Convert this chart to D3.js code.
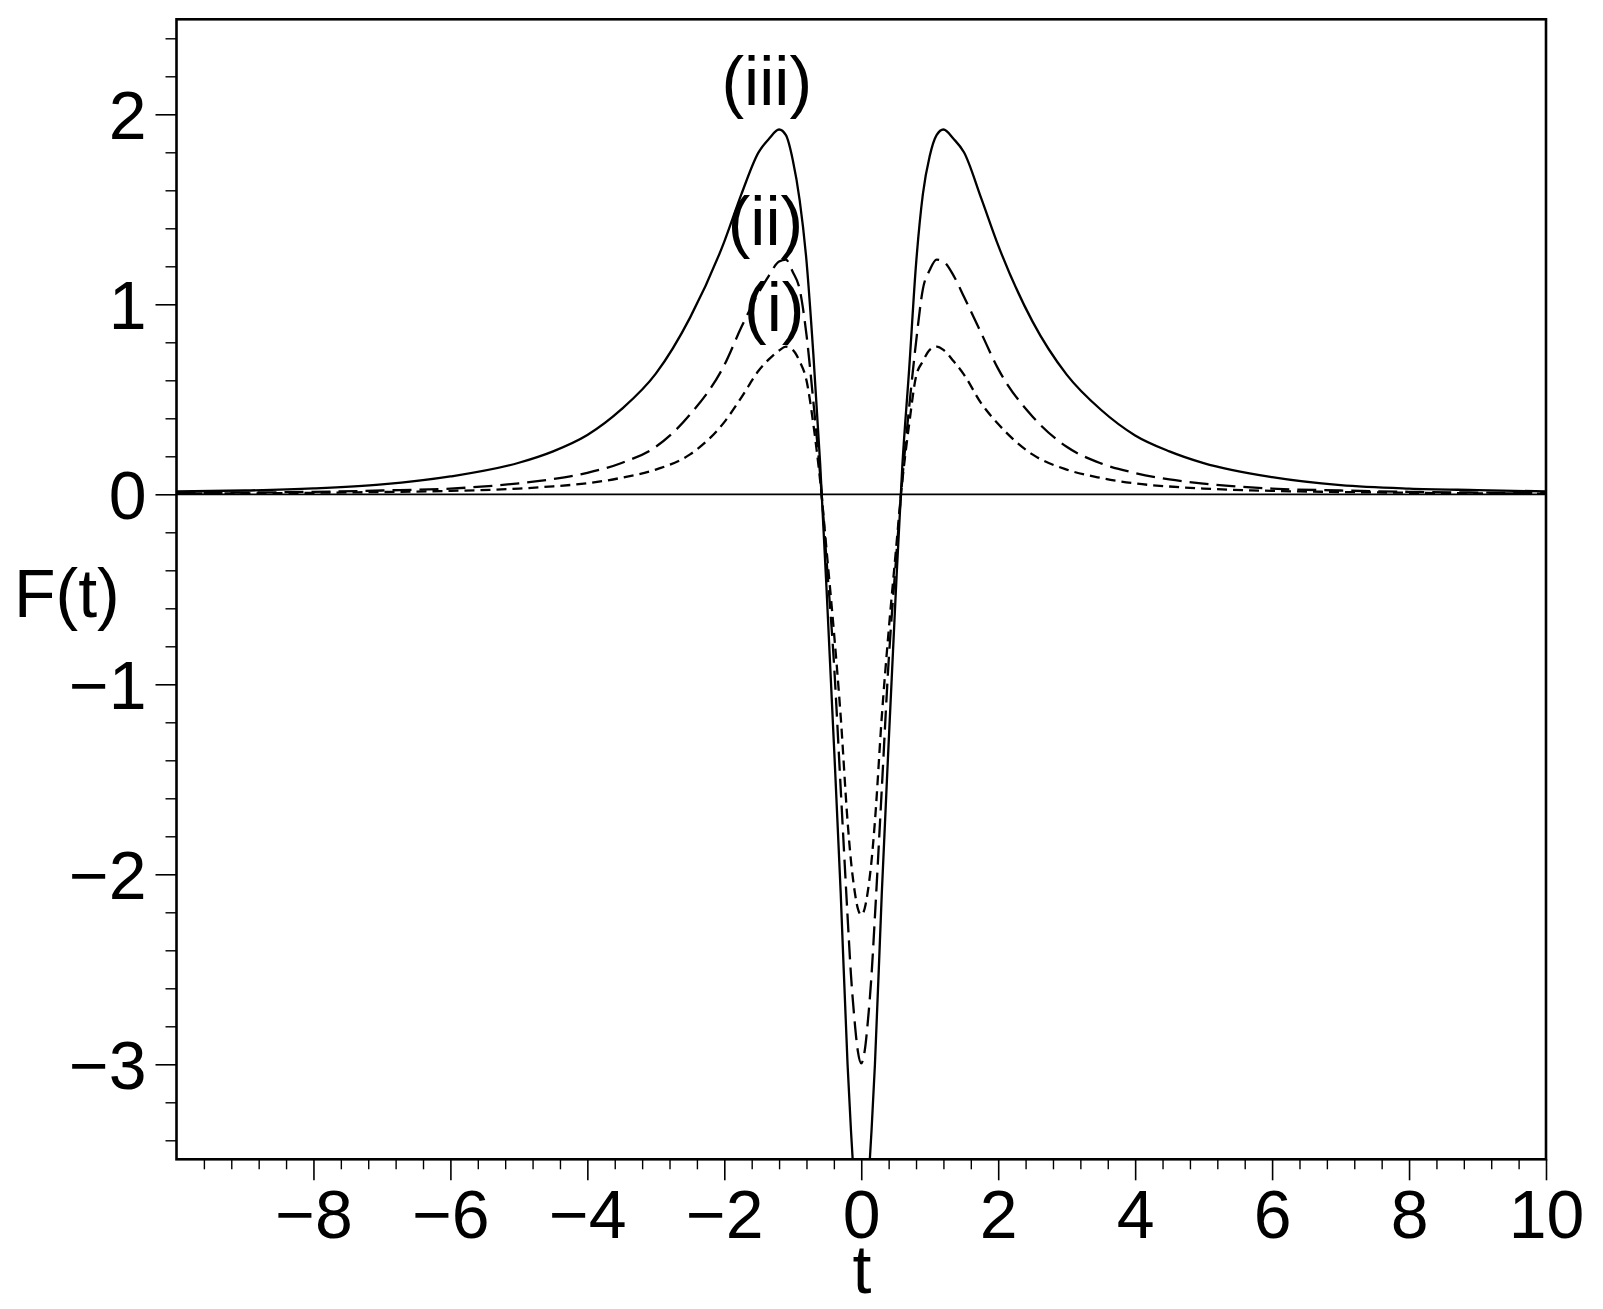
<!DOCTYPE html>
<html>
<head>
<meta charset="utf-8">
<script src="https://cdn.jsdelivr.net/npm/d3@7"></script>
<style>
  html, body { margin: 0; padding: 0; background: #fff; }
  svg { display: block; }
  text { font-family: "Liberation Sans", Arial, Helvetica, sans-serif; fill: #000; }
</style>
</head>
<body>
<svg id="chart" width="1603" height="1309"></svg>
<script>
// ---- data ----
const tValues = [-10,-9,-8,-7,-6,-5,-4.5,-4,-3.5,-3,-2.5,-2,-1.75,-1.5,-1.35,-1.2,-1.1,-1,-0.9,-0.8,-0.7,-0.6,-0.5,-0.4,-0.3,-0.2,-0.15,-0.1,-0.05,0,
                 0.05,0.1,0.15,0.2,0.3,0.4,0.5,0.6,0.7,0.8,0.9,1,1.1,1.2,1.35,1.5,1.75,2,2.5,3,3.5,4,4.5,5,6,7,8,9,10];

// (i) short dashed
const seriesI = [0.004,0.005,0.008,0.012,0.018,0.03,0.042,0.058,0.087,0.13,0.21,0.38,0.51,0.65,0.71,0.757,0.777,0.76,0.70,0.60,0.37,0.07,-0.32,-0.72,-1.17,-1.72,-1.93,-2.08,-2.18,-2.214,
                 -2.18,-2.08,-1.93,-1.72,-1.17,-0.72,-0.32,0.07,0.37,0.62,0.70,0.76,0.777,0.76,0.70,0.63,0.48,0.37,0.21,0.13,0.086,0.057,0.041,0.03,0.018,0.012,0.008,0.005,0.004];

// (ii) long dashed
const seriesII = [0.006,0.009,0.013,0.02,0.03,0.058,0.08,0.113,0.165,0.25,0.42,0.68,0.88,1.06,1.15,1.225,1.235,1.17,1.08,0.84,0.49,0.10,-0.38,-0.88,-1.55,-2.22,-2.53,-2.76,-2.93,-2.995,
                  -2.93,-2.76,-2.53,-2.22,-1.55,-0.88,-0.38,0.08,0.46,0.80,1.08,1.18,1.235,1.225,1.15,1.04,0.85,0.66,0.41,0.25,0.163,0.112,0.078,0.056,0.03,0.02,0.013,0.009,0.006];

// (iii) solid
const seriesIII = [0.015,0.02,0.031,0.052,0.094,0.166,0.226,0.312,0.448,0.635,0.93,1.33,1.58,1.80,1.87,1.92,1.89,1.76,1.55,1.23,0.74,0.16,-0.55,-1.31,-2.1,-3.0,-3.35,-3.65,-3.95,-4.2,
                   -3.95,-3.65,-3.35,-3.0,-2.1,-1.31,-0.55,0.15,0.66,1.21,1.58,1.78,1.89,1.92,1.87,1.80,1.56,1.31,0.91,0.63,0.445,0.31,0.226,0.164,0.09,0.048,0.03,0.022,0.015];

const xTickLabels = [-8,-6,-4,-2,0,2,4,6,8,10];
const yTickLabels = [-3,-2,-1,0,1,2];
const annotations = [
  {text: "(iii)", t: -1.38, v: 2.05},
  {text: "(ii)",  t: -1.40, v: 1.31},
  {text: "(i)",   t: -1.27, v: 0.86}
];

// ---- layout ----
const svg = d3.select("#chart");
const pL = 176.5, pR = 1546, pT = 19.3, pB = 1159.3;
const x = d3.scaleLinear().domain([-10, 10]).range([pL, pR]);
const y = d3.scaleLinear().domain([-3.5, 2.5]).range([pB, pT]);
const FS = 68;

svg.append("rect").attr("width", 1603).attr("height", 1309).attr("fill", "#fff");

svg.append("defs").append("clipPath").attr("id", "plotclip")
  .append("rect").attr("x", pL).attr("y", pT).attr("width", pR - pL).attr("height", pB - pT);

const fmt = d => d < 0 ? "\u2212" + Math.abs(d) : String(d);

// y axis (left) with minor ticks
const yMinor = d3.range(-34, 25, 2).map(d => d / 10).filter(d => Math.abs(d - Math.round(d)) > 1e-6);
const gy = svg.append("g").attr("transform", `translate(${pL},0)`)
  .call(d3.axisLeft(y).tickValues(yTickLabels).tickSize(21).tickFormat(fmt).tickPadding(8));
gy.select(".domain").remove();
gy.selectAll(".tick line").attr("stroke", "#000").attr("stroke-width", 1.6);
gy.selectAll(".tick text").attr("font-size", FS).attr("dy", "0.36em").attr("x", -30);
const gyMinor = svg.append("g").attr("transform", `translate(${pL},0)`)
  .call(d3.axisLeft(y).tickValues(yMinor).tickSize(11).tickFormat(""));
gyMinor.select(".domain").remove();
gyMinor.selectAll(".tick line").attr("stroke", "#000").attr("stroke-width", 1.4);

// x axis (bottom) with minor ticks
const xMinor = d3.range(-96, 100, 4).map(d => d / 10).filter(d => Math.abs(d / 2 - Math.round(d / 2)) > 1e-6);
const gx = svg.append("g").attr("transform", `translate(0,${pB})`)
  .call(d3.axisBottom(x).tickValues(xTickLabels).tickSize(21).tickFormat(fmt).tickPadding(8));
gx.select(".domain").remove();
gx.selectAll(".tick line").attr("stroke", "#000").attr("stroke-width", 1.6);
gx.selectAll(".tick text").attr("font-size", FS).attr("dy", null).attr("y", 79);
const gxMinor = svg.append("g").attr("transform", `translate(0,${pB})`)
  .call(d3.axisBottom(x).tickValues(xMinor).tickSize(10).tickFormat(""));
gxMinor.select(".domain").remove();
gxMinor.selectAll(".tick line").attr("stroke", "#000").attr("stroke-width", 1.4);

// frame
svg.append("rect").attr("x", pL).attr("y", pT).attr("width", pR - pL).attr("height", pB - pT)
  .attr("fill", "none").attr("stroke", "#000").attr("stroke-width", 2.6);

// zero line
svg.append("line").attr("x1", pL).attr("x2", pR).attr("y1", y(0)).attr("y2", y(0))
  .attr("stroke", "#000").attr("stroke-width", 1.8);

// curves
const line = d3.line().x((d, i) => x(tValues[i])).y(d => y(d)).curve(d3.curveMonotoneX);
const plot = svg.append("g").attr("clip-path", "url(#plotclip)");
const series = [
  {vals: seriesI, dash: "10,6"},
  {vals: seriesII, dash: "19,8"},
  {vals: seriesIII, dash: null}
];
series.forEach(s => {
  plot.append("path").datum(s.vals).attr("d", line)
    .attr("fill", "none").attr("stroke", "#000").attr("stroke-width", 2.3)
    .attr("stroke-dasharray", s.dash);
});

// annotations
svg.selectAll("text.ann").data(annotations).enter().append("text")
  .attr("class", "ann").attr("x", d => x(d.t)).attr("y", d => y(d.v))
  .attr("text-anchor", "middle").attr("font-size", FS).text(d => d.text);

// axis titles
svg.append("text").attr("x", 862).attr("y", 1293).attr("text-anchor", "middle").attr("font-size", FS).text("t");
svg.append("text").attr("x", 14).attr("y", 617).attr("font-size", FS).text("F(t)");
</script>
</body>
</html>
